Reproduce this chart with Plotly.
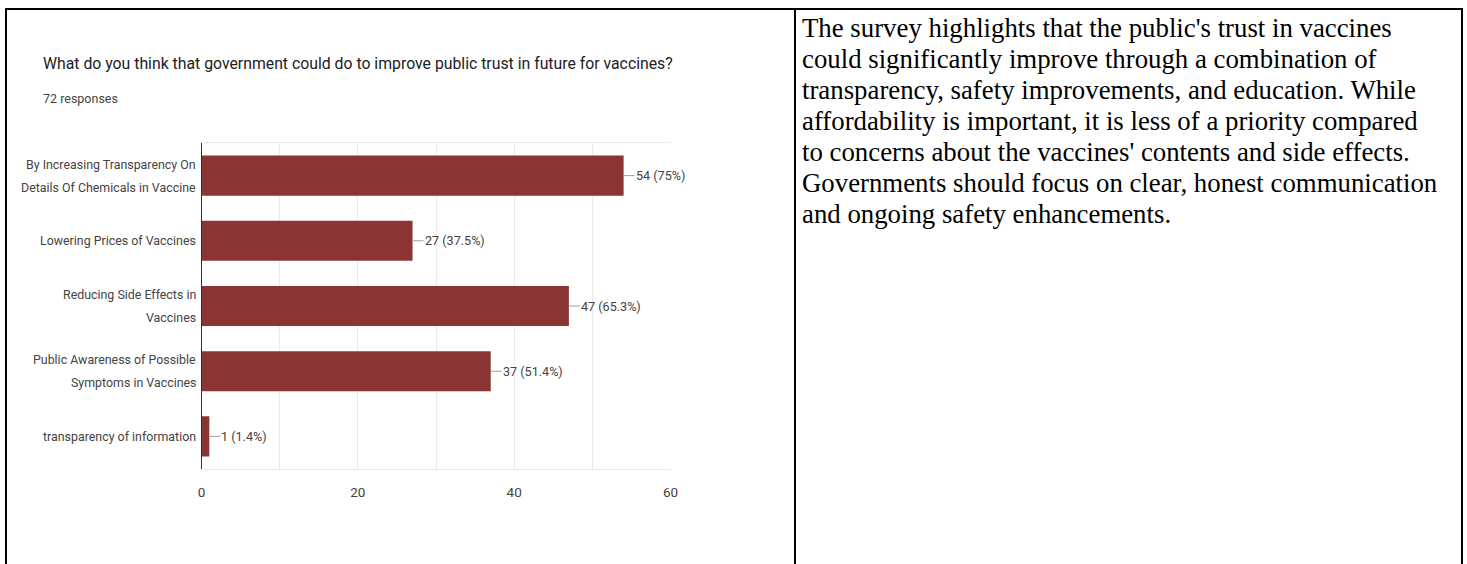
import plotly.graph_objects as go

W, H = 1467, 564

categories = [
    "By Increasing Transparency On<br>Details Of Chemicals in Vaccine",
    "Lowering Prices of Vaccines",
    "Reducing Side Effects in<br>Vaccines",
    "Public Awareness of Possible<br>Symptoms in Vaccines",
    "transparency of information",
]
counts = [54, 27, 47, 37, 1]
percent_labels = ["75%", "37.5%", "65.3%", "51.4%", "1.4%"]
x_tick_vals = [0, 10, 20, 30, 40, 50, 60]
x_tick_text = ["0", "", "20", "", "40", "", "60"]

title_text = "What do you think that government could do to improve public trust in future for vaccines?"
subtitle_text = "72 responses"
summary_lines = [
    "The survey highlights that the public's trust in vaccines",
    "could significantly improve through a combination of",
    "transparency, safety improvements, and education. While",
    "affordability is important, it is less of a priority compared",
    "to concerns about the vaccines' contents and side effects.",
    "Governments should focus on clear, honest communication",
    "and ongoing safety enhancements.",
]

SANS = "Roboto, Liberation Sans, sans-serif"
SERIF = "Liberation Serif, Times New Roman, serif"
BAR = "#8b3434"


def px(x):
    return x / W


def py(y):
    return 1 - y / H


fig = go.Figure()
fig.add_trace(go.Bar(
    x=counts, y=categories, orientation="h",
    marker=dict(color=BAR, line=dict(width=0)),
    hoverinfo="skip",
))

annotations = []
for cat in categories:
    lines = cat.split("<br>")
    n = len(lines)
    for i, ln in enumerate(lines):
        annotations.append(dict(
            x=0, y=cat, xref="x", yref="y", text=ln, showarrow=False,
            xanchor="right", yanchor="middle", xshift=-3,
            yshift=((n - 1) / 2 - i) * 23,
            font=dict(family=SANS, size=12.4, color="#444444"),
        ))
for cat, c, p in zip(categories, counts, percent_labels):
    annotations.append(dict(
        x=c, y=cat, xref="x", yref="y", text=f"{c} ({p})",
        showarrow=True, ax=11, ay=0, arrowhead=0, arrowwidth=1,
        arrowcolor="#9e9e9e", standoff=0, startstandoff=0,
        xanchor="left", yanchor="middle", borderpad=0,
        font=dict(family=SANS, size=12.6, color="#444444"),
    ))
annotations.append(dict(
    x=px(41), y=py(64), xref="paper", yref="paper", text=title_text,
    showarrow=False, xanchor="left", yanchor="middle",
    font=dict(family=SANS, size=15.8, color="#202124"),
))
annotations.append(dict(
    x=px(41), y=py(99), xref="paper", yref="paper", text=subtitle_text,
    showarrow=False, xanchor="left", yanchor="middle",
    font=dict(family=SANS, size=12.5, color="#444444"),
))
for i, ln in enumerate(summary_lines):
    annotations.append(dict(
        x=px(800), y=py(28 + 31 * i), xref="paper", yref="paper", text=ln,
        showarrow=False, xanchor="left", yanchor="middle",
        font=dict(family=SERIF, size=26.8, color="#000000"),
    ))

border = dict(color="#000000", width=2)
shapes = [
    dict(type="line", xref="paper", yref="paper", x0=px(5), x1=px(1463), y0=py(9), y1=py(9), line=border),
    dict(type="line", xref="paper", yref="paper", x0=px(6), x1=px(6), y0=py(8), y1=py(H + 6), line=border),
    dict(type="line", xref="paper", yref="paper", x0=px(795), x1=px(795), y0=py(8), y1=py(H + 6), line=border),
    dict(type="line", xref="paper", yref="paper", x0=px(1462), x1=px(1462), y0=py(8), y1=py(H + 6), line=border),
]

fig.update_layout(
    width=W, height=H, autosize=False,
    margin=dict(l=0, r=0, t=0, b=0, pad=0, autoexpand=False),
    paper_bgcolor="white", plot_bgcolor="white",
    showlegend=False,
    bargap=0.385,
    annotations=annotations,
    shapes=shapes,
    xaxis=dict(
        domain=[px(201.5), px(670.5)], range=[0, 60], automargin=False,
        tickmode="array", tickvals=x_tick_vals, ticktext=x_tick_text,
        showgrid=True, gridcolor="#ebebeb", gridwidth=1,
        zeroline=False, showline=True, linecolor="#ebebeb", linewidth=1, mirror=True,
        ticks="", ticklabelstandoff=11,
        tickfont=dict(family=SANS, size=13.5, color="#444444"),
        fixedrange=True,
    ),
    yaxis=dict(
        domain=[py(469), py(143)], autorange="reversed", automargin=False,
        showticklabels=False, ticks="", showgrid=False, zeroline=False,
        showline=True, linecolor="#333333", linewidth=1,
        fixedrange=True,
    ),
)

fig.write_html("out.html", config={"displayModeBar": False})
